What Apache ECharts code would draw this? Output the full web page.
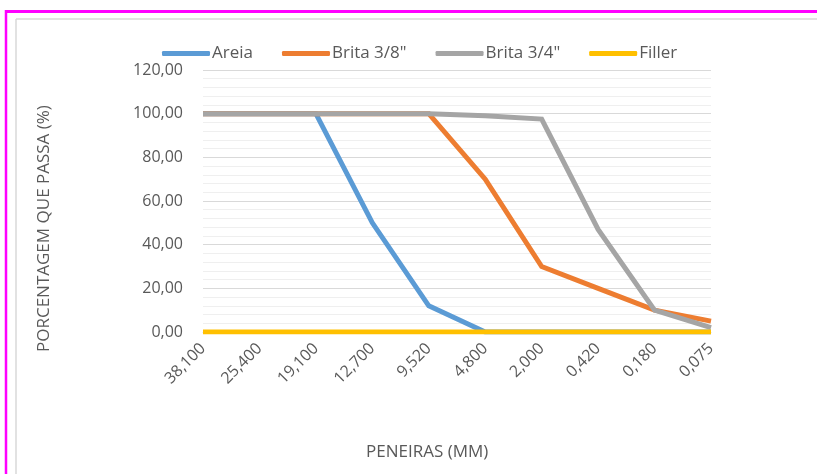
<!DOCTYPE html>
<html>
<head>
<meta charset="utf-8">
<script src="https://cdn.jsdelivr.net/npm/echarts@6/dist/echarts.min.js"></script>
<style>
  html, body { margin: 0; padding: 0; background: #fff; }
  #chart { width: 817px; height: 474px; }
</style>
</head>
<body>
<div id="chart"></div>
<script>
// Sieve openings (mm)
const peneiras = ['38,100', '25,400', '19,100', '12,700', '9,520', '4,800', '2,000', '0,420', '0,180', '0,075'];

// Percentage passing per material
const areia    = [100, 100, 100, 50, 12, 0, 0, 0, 0, 0];
const brita38  = [100, 100, 100, 100, 100, 70, 30, 20, 10, 5];
const brita34  = [100, 100, 100, 100, 100, 99, 97.5, 47, 10, 2];
const filler   = [0, 0, 0, 0, 0, 0, 0, 0, 0, 0];

const seriesNames = ['Areia', 'Brita 3/8"', 'Brita 3/4"', 'Filler'];
const seriesData  = [areia, brita38, brita34, filler];
const seriesColors = ['#5B9BD5', '#ED7D31', '#A5A5A5', '#FFC000'];

const FONT = '"Open Sans", "Liberation Sans", sans-serif';
const TEXT = '#595959';

const chart = echarts.init(document.getElementById('chart'), null, { renderer: 'canvas' });

chart.setOption({
  animation: false,
  backgroundColor: '#ffffff',
  textStyle: { fontFamily: FONT, color: TEXT },
  legend: {
    left: 157,
    top: 40,
    itemWidth: 48,
    itemHeight: 5,
    itemGap: 29,
    icon: 'roundRect',
    textStyle: { fontFamily: FONT, fontSize: 17, color: TEXT, padding: [0, 0, 0, -3] },
    data: seriesNames
  },
  grid: { left: 203, right: 106, top: 70, bottom: 142, containLabel: false },
  xAxis: {
    type: 'category',
    boundaryGap: false,
    data: peneiras,
    axisLine: { show: true, lineStyle: { color: '#d9d9d9' } },
    axisTick: { show: false },
    axisLabel: { rotate: 45, margin: 14, fontFamily: FONT, fontSize: 16, color: TEXT }
  },
  yAxis: {
    type: 'value',
    min: 0,
    max: 120,
    interval: 20,
    axisLine: { show: false },
    axisTick: { show: false },
    axisLabel: {
      margin: 20,
      fontFamily: FONT,
      fontSize: 16,
      color: TEXT,
      formatter: v => v.toFixed(2).replace('.', ',')
    },
    splitLine: { show: true, lineStyle: { color: '#d9d9d9', width: 1 } },
    minorTick: { show: false, splitNumber: 5 },
    minorSplitLine: { show: true, lineStyle: { color: '#efefef', width: 1 } }
  },
  series: seriesNames.map((name, i) => ({
    name: name,
    type: 'line',
    data: seriesData[i],
    symbol: 'none',
    color: seriesColors[i],
    lineStyle: { width: 5, color: seriesColors[i], cap: 'butt', join: 'miter' },
    z: 2 + i
  })),
  graphic: [
    // outer magenta frame
    { type: 'line', shape: { x1: 6, y1: 11.5, x2: 817, y2: 11.5 }, style: { stroke: '#FF00FF', lineWidth: 3 } },
    { type: 'line', shape: { x1: 6, y1: 10, x2: 6, y2: 474 }, style: { stroke: '#FF00FF', lineWidth: 2.5 } },
    // chart area border
    { type: 'line', shape: { x1: 16, y1: 19, x2: 817, y2: 19 }, style: { stroke: '#d9d9d9', lineWidth: 1.5 } },
    { type: 'line', shape: { x1: 16, y1: 19, x2: 16, y2: 474 }, style: { stroke: '#d9d9d9', lineWidth: 1.5 } },
    // axis titles
    {
      type: 'text',
      left: 366, top: 444,
      style: { text: 'PENEIRAS (MM)', font: '17px ' + FONT, fill: TEXT }
    },
    {
      type: 'text',
      x: 44, y: 352,
      rotation: Math.PI / 2,
      style: { text: 'PORCENTAGEM QUE PASSA (%)', font: '17px ' + FONT, fill: TEXT, textAlign: 'left', textVerticalAlign: 'middle' }
    }
  ]
});
</script>
</body>
</html>
